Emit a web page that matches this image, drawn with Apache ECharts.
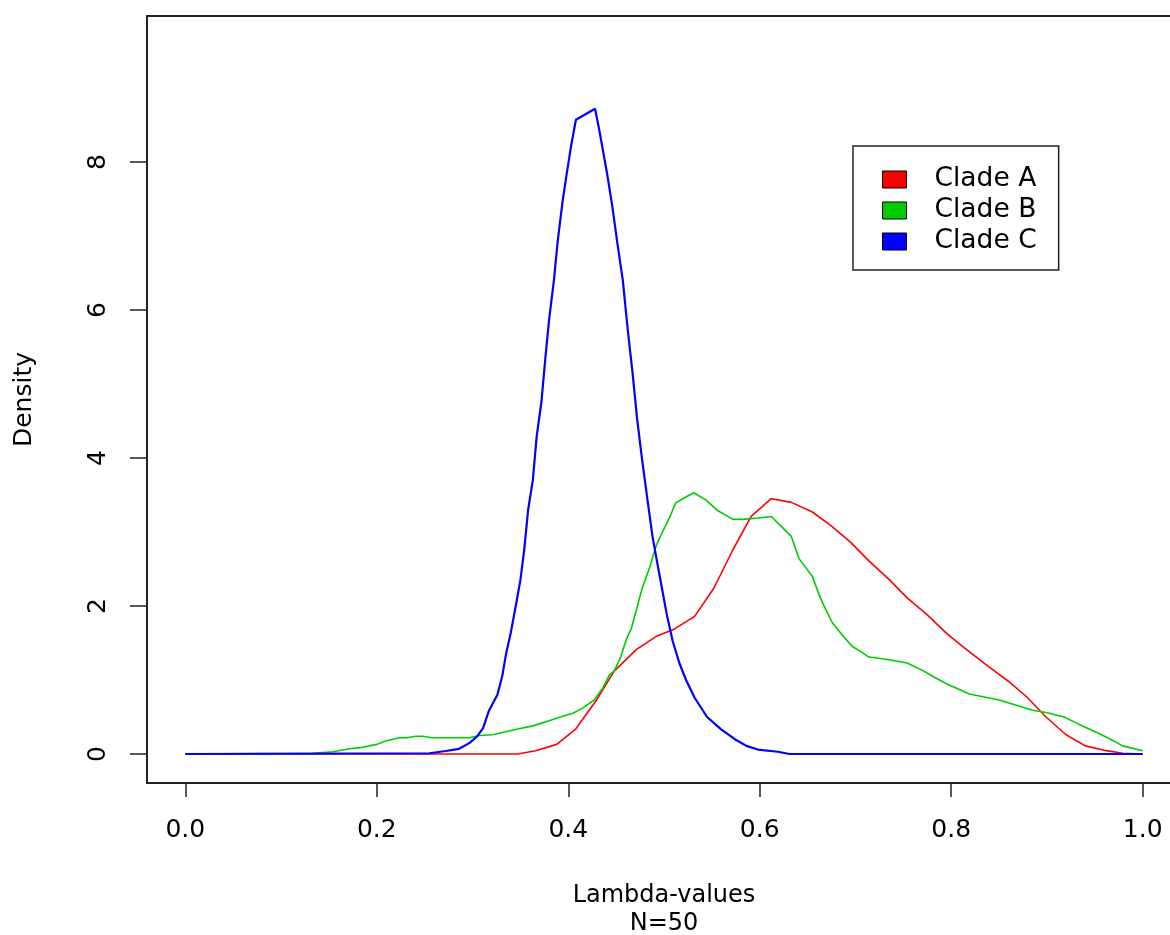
<!DOCTYPE html>
<html>
<head>
<meta charset="utf-8">
<script src="https://cdn.jsdelivr.net/npm/echarts@6/dist/echarts.min.js"></script>
<style>html,body{margin:0;padding:0;background:#fff}#c{width:1170px;height:935px}</style>
</head>
<body>
<div id="c"></div>
<script>
const seriesNames = ['Clade A', 'Clade B', 'Clade C'];
const xTicks = [0, 0.2, 0.4, 0.6, 0.8, 1.0];
const yTicks = [0, 2, 4, 6, 8];

const xA = [0, 0.347, 0.366, 0.388, 0.408, 0.429, 0.448, 0.471, 0.492, 0.511, 0.532, 0.552, 0.572, 0.591, 0.612, 0.633, 0.655, 0.676, 0.695, 0.714, 0.735, 0.754, 0.775, 0.796, 0.817, 0.838, 0.859, 0.879, 0.899, 0.920, 0.940, 0.962, 0.979, 1.0];
const yA = [0, 0, 0.045, 0.13, 0.34, 0.72, 1.12, 1.41, 1.59, 1.69, 1.86, 2.24, 2.76, 3.21, 3.45, 3.40, 3.27, 3.07, 2.86, 2.61, 2.36, 2.11, 1.88, 1.62, 1.40, 1.19, 0.99, 0.77, 0.50, 0.26, 0.11, 0.045, 0.01, 0];

const xB = [0, 0.133, 0.154, 0.172, 0.185, 0.2, 0.210, 0.224, 0.231, 0.241, 0.248, 0.257, 0.297, 0.307, 0.321, 0.345, 0.363, 0.380, 0.394, 0.405, 0.415, 0.427, 0.436, 0.443, 0.448, 0.455, 0.461, 0.466, 0.471, 0.477, 0.485, 0.492, 0.498, 0.506, 0.512, 0.521, 0.531, 0.544, 0.556, 0.572, 0.582, 0.598, 0.612, 0.623, 0.633, 0.641, 0.655, 0.662, 0.669, 0.676, 0.686, 0.697, 0.706, 0.714, 0.732, 0.754, 0.770, 0.782, 0.795, 0.819, 0.850, 0.868, 0.885, 0.899, 0.918, 0.932, 0.947, 0.965, 0.979, 1.0];
const yB = [0, 0.01, 0.03, 0.07, 0.09, 0.13, 0.18, 0.22, 0.22, 0.24, 0.24, 0.22, 0.22, 0.25, 0.26, 0.33, 0.38, 0.45, 0.51, 0.55, 0.62, 0.73, 0.89, 1.07, 1.12, 1.32, 1.56, 1.70, 1.94, 2.23, 2.52, 2.82, 2.99, 3.20, 3.39, 3.46, 3.53, 3.43, 3.29, 3.17, 3.17, 3.19, 3.21, 3.07, 2.94, 2.64, 2.40, 2.15, 1.95, 1.77, 1.61, 1.45, 1.38, 1.31, 1.28, 1.23, 1.13, 1.04, 0.95, 0.81, 0.73, 0.66, 0.59, 0.56, 0.50, 0.41, 0.32, 0.21, 0.11, 0.045];

const xC = [0, 0.255, 0.272, 0.286, 0.297, 0.305, 0.311, 0.317, 0.326, 0.331, 0.335, 0.340, 0.346, 0.350, 0.354, 0.358, 0.363, 0.367, 0.372, 0.376, 0.380, 0.385, 0.389, 0.394, 0.398, 0.403, 0.408, 0.428, 0.432, 0.437, 0.441, 0.446, 0.451, 0.457, 0.462, 0.467, 0.472, 0.477, 0.483, 0.488, 0.493, 0.498, 0.503, 0.509, 0.516, 0.523, 0.532, 0.545, 0.560, 0.574, 0.586, 0.598, 0.619, 0.631, 1.0];
const yC = [0, 0.01, 0.04, 0.07, 0.15, 0.24, 0.35, 0.58, 0.80, 1.05, 1.35, 1.64, 2.06, 2.35, 2.76, 3.29, 3.70, 4.29, 4.76, 5.34, 5.87, 6.40, 6.93, 7.46, 7.81, 8.22, 8.57, 8.72, 8.46, 8.10, 7.81, 7.40, 6.93, 6.40, 5.75, 5.17, 4.52, 3.99, 3.41, 2.94, 2.58, 2.23, 1.88, 1.53, 1.23, 1.00, 0.76, 0.50, 0.33, 0.20, 0.11, 0.06, 0.03, 0, 0];

const colors = ['#ff0000', '#00cd00', '#0000ff'];
const widths = [1.6, 1.6, 2.2];
const pairs = (xs, ys) => xs.map((x, i) => [x, ys[i]]);
const allData = [pairs(xA, yA), pairs(xB, yB), pairs(xC, yC)];

const FONT = 'DejaVu Sans';
const chart = echarts.init(document.getElementById('c'), null, {renderer: 'canvas'});
chart.setOption({
  animation: false,
  backgroundColor: '#fff',
  textStyle: {fontFamily: FONT, color: '#000'},
  grid: {
    left: 147, top: 16, width: 1034, height: 767,
    outerBoundsMode: 'none', containLabel: false,
    show: true, borderColor: '#222', borderWidth: 2, backgroundColor: 'transparent'
  },
  legend: {
    orient: 'vertical', left: 853, top: 146,
    padding: [20, 22, 15, 29],
    itemGap: 4, itemWidth: 24, itemHeight: 17, icon: 'rect',
    borderColor: '#222', borderWidth: 1.5, backgroundColor: '#fff',
    itemStyle: {borderColor: '#000', borderWidth: 1},
    textStyle: {fontFamily: FONT, fontSize: 26.5, color: '#000', padding: [0, 0, 0, 23], lineHeight: 26},
    data: seriesNames
  },
  xAxis: {
    type: 'value', min: -0.04, max: 1.04,
    name: 'Lambda-values\nN=50', nameLocation: 'middle', nameGap: 99,
    nameTextStyle: {fontFamily: FONT, fontSize: 24, color: '#000', lineHeight: 28, verticalAlign: 'top'},
    axisLine: {show: false, onZero: false},
    axisTick: {show: true, inside: false, length: 14, lineStyle: {color: '#222', width: 1.5}, customValues: xTicks},
    axisLabel: {show: true, margin: 35, fontFamily: FONT, fontSize: 25, color: '#000', customValues: xTicks,
      formatter: v => v.toFixed(1)},
    splitLine: {show: false}
  },
  yAxis: {
    type: 'value', min: -0.392, max: 9.973,
    name: 'Density', nameLocation: 'middle', nameGap: 110, nameRotate: 90,
    nameTextStyle: {fontFamily: FONT, fontSize: 25, color: '#000'},
    axisLine: {show: false, onZero: false},
    axisTick: {show: true, inside: false, length: 17, lineStyle: {color: '#222', width: 1.5}, customValues: yTicks},
    axisLabel: {show: true, margin: 36, rotate: 90, fontFamily: FONT, fontSize: 25, color: '#000', customValues: yTicks,
      formatter: v => String(v)},
    splitLine: {show: false}
  },
  series: seriesNames.map((n, i) => ({
    name: n, type: 'line', data: allData[i], showSymbol: false, symbol: 'none', smooth: false,
    lineStyle: {color: colors[i], width: widths[i]}, itemStyle: {color: colors[i]},
    z: 2 + i, clip: true
  }))
});
</script>
</body>
</html>
